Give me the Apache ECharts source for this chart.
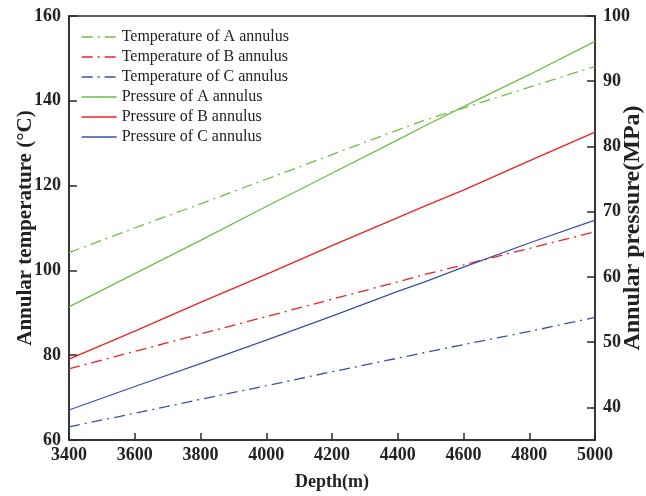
<!DOCTYPE html>
<html>
<head>
<meta charset="utf-8">
<script src="https://cdn.jsdelivr.net/npm/echarts@6/dist/echarts.min.js"></script>
<style>html,body{margin:0;padding:0;background:#fff;}#c{width:646px;height:496px;}</style>
</head>
<body>
<div id="c"></div>
<script>
const depths = [3400, 3600, 3800, 4000, 4200, 4400, 4480, 4600, 4800, 5000];
const tempA = [104.2, 110.0, 115.7, 121.5, 127.3, 133.1, 135.4, 138.3, 143.2, 148.1];
const tempB = [76.8, 80.9, 85.0, 89.1, 93.2, 97.3, 99.0, 101.3, 105.2, 109.1];
const tempC = [63.1, 66.3, 69.6, 72.8, 76.1, 79.3, 80.6, 82.5, 85.6, 88.9];
const presA = [55.4, 60.5, 65.6, 70.8, 75.9, 81.0, 83.1, 86.1, 91.0, 96.1];
const presB = [47.4, 51.7, 56.1, 60.4, 64.8, 69.1, 70.8, 73.3, 77.8, 82.2];
const presC = [39.6, 43.2, 46.7, 50.3, 54.0, 57.8, 59.2, 61.5, 65.2, 68.7];
const seriesNames = ['Temperature of A annulus', 'Temperature of B annulus', 'Temperature of C annulus',
  'Pressure of A annulus', 'Pressure of B annulus', 'Pressure of C annulus'];
const rightTicks = [40, 50, 60, 70, 80, 90, 100];

const GREEN = '#6dbe45', RED = '#ee2024', BLUE = '#3953a4';
const serif = "'Liberation Serif', 'Times New Roman', serif";
const dashDot = [11, 5, 2, 5];
const pair = (arr) => depths.map((d, i) => [d, arr[i]]);

function mk(name, data, color, dashed, yIdx) {
  return {
    name, type: 'line', yAxisIndex: yIdx, data: pair(data), symbol: 'none',
    lineStyle: { color, width: 1.3, type: dashed ? dashDot : 'solid' },
    itemStyle: { color }
  };
}

const axisLineStyle = { color: '#2a2a2a', width: 1.5 };
const labelStyle = { fontFamily: serif, fontWeight: 'bold', fontSize: 18, color: '#222', formatter: (v) => String(v) };
const nameStyle = (sz) => ({ fontFamily: serif, fontWeight: 'bold', fontSize: sz, color: '#222' });

const chart = echarts.init(document.getElementById('c'), null, { renderer: 'canvas' });
chart.setOption({
  animation: false,
  backgroundColor: '#fff',
  grid: { left: 69, right: 51, top: 16, bottom: 56, show: true, borderColor: '#2a2a2a', borderWidth: 1.5,
    containLabel: false, outerBoundsMode: 'none' },
  legend: {
    orient: 'vertical', left: 76, top: 24, itemWidth: 35, itemHeight: 14, itemGap: 4,
    data: seriesNames.map((n, i) => ({
      name: n,
      itemStyle: { opacity: 0 },
      lineStyle: { type: i < 3 ? dashDot : 'solid', width: 1.3 }
    })),
    textStyle: { fontFamily: serif, fontSize: 16, color: '#222' }
  },
  xAxis: {
    type: 'value', min: 3400, max: 5000, interval: 200,
    name: 'Depth(m)', nameLocation: 'middle', nameGap: 33, nameMoveOverlap: false, nameTextStyle: nameStyle(18),
    axisLine: { show: true, lineStyle: axisLineStyle },
    axisTick: { show: true, inside: true, length: 7, lineStyle: axisLineStyle },
    axisLabel: Object.assign({ margin: 6 }, labelStyle),
    splitLine: { show: false }
  },
  yAxis: [{
    type: 'value', min: 60, max: 160, interval: 20, position: 'left',
    name: 'Annular temperature (°C)', nameLocation: 'middle', nameGap: 33, nameMoveOverlap: false, nameTextStyle: nameStyle(21),
    axisLine: { show: true, lineStyle: axisLineStyle },
    axisTick: { show: true, inside: true, length: 8, lineStyle: axisLineStyle },
    axisLabel: Object.assign({ margin: 8 }, labelStyle),
    splitLine: { show: false }
  }, {
    type: 'value', min: 35, max: 100, interval: 5, position: 'right',
    name: 'Annular pressure(MPa)', nameLocation: 'middle', nameGap: 26, nameMoveOverlap: false, nameTextStyle: nameStyle(24),
    axisLine: { show: true, lineStyle: axisLineStyle },
    axisTick: { show: true, inside: true, length: 8, lineStyle: axisLineStyle, customValues: rightTicks },
    axisLabel: Object.assign({ margin: 8, customValues: rightTicks }, labelStyle),
    splitLine: { show: false }
  }],
  series: [
    mk(seriesNames[0], tempA, GREEN, true, 0),
    mk(seriesNames[1], tempB, RED, true, 0),
    mk(seriesNames[2], tempC, BLUE, true, 0),
    mk(seriesNames[3], presA, GREEN, false, 1),
    mk(seriesNames[4], presB, RED, false, 1),
    mk(seriesNames[5], presC, BLUE, false, 1)
  ]
});
</script>
</body>
</html>
